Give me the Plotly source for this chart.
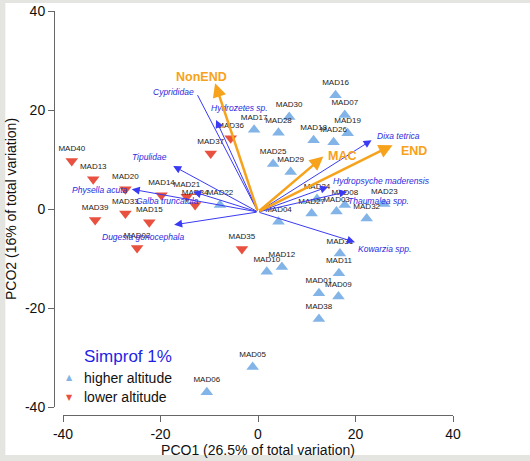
import plotly.graph_objects as go

# ---- Sample scores (PCO1, PCO2) ----
high_names = ["MAD16", "MAD07", "MAD30", "MAD17", "MAD28", "MAD19", "MAD18", "MAD26",
              "MAD25", "MAD29", "MAD22", "MAD04", "MAD24", "MAD27", "MAD08", "MAD03",
              "MAD23", "MAD32", "MAD31", "MAD11", "MAD10", "MAD12", "MAD01", "MAD09",
              "MAD38", "MAD05", "MAD06"]
high_x = [15.9, 17.8, 6.4, -0.8, 4.2, 18.4, 11.4, 15.5,
          3.1, 6.7, -7.8, 4.2, 12.1, 11.0, 17.8, 16.1,
          25.9, 22.3, 16.8, 16.6, 1.8, 4.9, 12.5, 16.5,
          12.5, -1.1, -10.5]
high_y = [23.0, 19.0, 18.6, 16.0, 15.4, 15.3, 13.9, 13.5,
          9.1, 7.5, 0.8, -2.6, 2.0, -0.9, 0.8, -0.5,
          1.0, -1.9, -9.0, -13.0, -12.7, -11.7, -17.0, -17.7,
          -22.2, -31.9, -37.0]

low_names = ["MAD40", "MAD13", "MAD20", "MAD14", "MAD21", "MAD34", "MAD33", "MAD39",
             "MAD15", "MAD02", "MAD37", "MAD36", "MAD35"]
low_x = [-38.2, -33.8, -27.2, -19.8, -14.6, -12.9, -27.2, -33.4,
         -22.3, -24.8, -9.7, -5.6, -3.3]
low_y = [9.7, 6.0, 4.0, 2.8, 2.5, 0.8, -0.9, -2.2,
         -2.7, -7.9, 11.2, 14.3, -8.1]

# ---- Species vectors (tips) ----
sp_names = ["Cyprididae", "Hydrozetes sp.", "Tipulidae", "Physella acuta", "Galba truncatula",
            "Dugesia gonocephala", "Dixa tetrica", "Hydropsyche maderensis",
            "Thaumalea spp.", "Kowarzia spp."]
sp_x = [-12.4, -8.6, -17.4, -25.9, -13.3, -17.2, 23.3, 14.4, 18.3, 19.9]
sp_y = [23.0, 18.0, 8.7, 4.0, 3.5, -3.2, 13.9, 4.5, 3.5, -6.7]
sp_head = [False, True, True, True, True, True, True, True, True, True]
sp_label_x = [-17.4, -3.8, -22.3, -32.4, -18.5, -23.5, 28.9, 25.4, 24.8, 25.9]
sp_label_y = [23.7, 20.5, 10.6, 3.8, 1.6, -5.6, 14.7, 5.7, 1.7, -8.1]

# ---- Group vectors ----
grp_names = ["NonEND", "MAC", "END"]
grp_x = [-8.8, 13.4, 27.6]
grp_y = [25.4, 10.6, 12.9]
grp_label_x = [-11.5, 17.2, 31.9]
grp_label_y = [26.6, 10.7, 11.8]

vec_origin = (0.0, -0.6)

x_ticks = [-40, -20, 0, 20, 40]
y_ticks = [-40, -20, 0, 20, 40]

FONT = "Liberation Sans, Arial, sans-serif"
BLUE_PT = "#82b4e8"
RED_PT = "#e8503f"
ORANGE = "#f7a21b"
VBLUE = "#3a3af5"

fig = go.Figure()

fig.add_trace(go.Scatter(
    x=high_x, y=high_y, text=high_names, mode="markers+text",
    textposition="top center",
    textfont=dict(family=FONT, size=8, color="#222222"),
    marker=dict(symbol="triangle-up", size=11, color=BLUE_PT, line=dict(width=0)),
    name="higher altitude", showlegend=False, cliponaxis=False))

fig.add_trace(go.Scatter(
    x=low_x, y=low_y, text=low_names, mode="markers+text",
    textposition="top center",
    textfont=dict(family=FONT, size=8, color="#222222"),
    marker=dict(symbol="triangle-down", size=11, color=RED_PT, line=dict(width=0)),
    name="lower altitude", showlegend=False, cliponaxis=False))

ann = []
# species vectors
for nm, x, y, hd, lx, ly in zip(sp_names, sp_x, sp_y, sp_head, sp_label_x, sp_label_y):
    ann.append(dict(x=x, y=y, ax=vec_origin[0], ay=vec_origin[1], xref="x", yref="y",
                    axref="x", ayref="y", text="", showarrow=True,
                    arrowhead=2 if hd else 0, arrowsize=1.6, arrowwidth=1,
                    arrowcolor=VBLUE, standoff=0, startstandoff=0))
    ann.append(dict(x=lx, y=ly, xref="x", yref="y", text=nm, showarrow=False,
                    font=dict(family=FONT, size=8.5, color="#2b2be0", style="italic")))
# group vectors
for nm, x, y, lx, ly in zip(grp_names, grp_x, grp_y, grp_label_x, grp_label_y):
    ann.append(dict(x=x, y=y, ax=vec_origin[0], ay=vec_origin[1], xref="x", yref="y",
                    axref="x", ayref="y", text="", showarrow=True,
                    arrowhead=2, arrowsize=1.1, arrowwidth=2.5,
                    arrowcolor=ORANGE, standoff=0))
    ann.append(dict(x=lx, y=ly, xref="x", yref="y", text="<b>%s</b>" % nm, showarrow=False,
                    font=dict(family=FONT, size=12.5, color=ORANGE)))

# legend (drawn as text)
ann.append(dict(x=0.0702, y=0.146, xref="paper", yref="paper", xanchor="left", yanchor="middle",
                text="Simprof 1%", showarrow=False, font=dict(family=FONT, size=17, color="#1f1fe6")))
ann.append(dict(x=0.0376, y=0.093, xref="paper", yref="paper", xanchor="center", yanchor="middle",
                text="▲", showarrow=False, font=dict(family="DejaVu Sans", size=8, color=BLUE_PT)))
ann.append(dict(x=0.0702, y=0.0916, xref="paper", yref="paper", xanchor="left", yanchor="middle",
                text="higher altitude", showarrow=False, font=dict(family=FONT, size=14, color="#111111")))
ann.append(dict(x=0.0376, y=0.043, xref="paper", yref="paper", xanchor="center", yanchor="middle",
                text="▼", showarrow=False, font=dict(family="DejaVu Sans", size=8, color=RED_PT)))
ann.append(dict(x=0.0702, y=0.045, xref="paper", yref="paper", xanchor="left", yanchor="middle",
                text="lower altitude", showarrow=False, font=dict(family=FONT, size=14, color="#111111")))

# light grey frame of the picture
GREY = "#e4e4e0"
shapes = [
    dict(type="rect", xref="paper", yref="paper", x0=-0.14, x1=1.2, y0=1.0198, y1=1.04,
         fillcolor=GREY, line=dict(width=0), layer="below"),
    dict(type="rect", xref="paper", yref="paper", x0=-0.14, x1=-0.122, y0=-0.12, y1=1.04,
         fillcolor=GREY, line=dict(width=0), layer="below"),
    dict(type="rect", xref="paper", yref="paper", x0=-0.14, x1=1.2, y0=-0.12, y1=-0.099,
         fillcolor=GREY, line=dict(width=0), layer="below"),
]

W, H = 530, 461
fig.update_layout(
    width=W, height=H,
    margin=dict(l=54, r=77, t=11, b=46, pad=0),
    paper_bgcolor="white", plot_bgcolor="white",
    font=dict(family=FONT, color="#111111"),
    annotations=ann, shapes=shapes, showlegend=False,
    xaxis=dict(range=[-40, 40], domain=[9 / 399, 1], anchor="free", position=0,
               showline=True, linecolor="#666666", linewidth=1, mirror=False,
               ticks="outside", ticklen=6, tickcolor="#666666",
               tickvals=x_ticks, ticktext=[str(v) for v in x_ticks],
               tickfont=dict(size=14, family=FONT, color="#111111"),
               showgrid=False, zeroline=False, automargin=False,
               title=dict(text="PCO1 (26.5% of total variation)", standoff=2,
                          font=dict(size=14, family=FONT, color="#111111"))),
    yaxis=dict(range=[-40, 40], domain=[8 / 404, 1], anchor="free", position=0,
               showline=True, linecolor="#666666", linewidth=1, mirror=False,
               ticks="outside", ticklen=6, tickcolor="#666666",
               tickvals=y_ticks, ticktext=[str(v) for v in y_ticks],
               tickfont=dict(size=14, family=FONT, color="#111111"),
               showgrid=False, zeroline=False, automargin=False,
               title=dict(text="PCO2 (16% of total variation)", standoff=4,
                          font=dict(size=14, family=FONT, color="#111111"))),
)

fig.write_html("out.html", config={"displayModeBar": False},
               post_script="document.body.style.margin='0';document.body.style.overflow='hidden';")
